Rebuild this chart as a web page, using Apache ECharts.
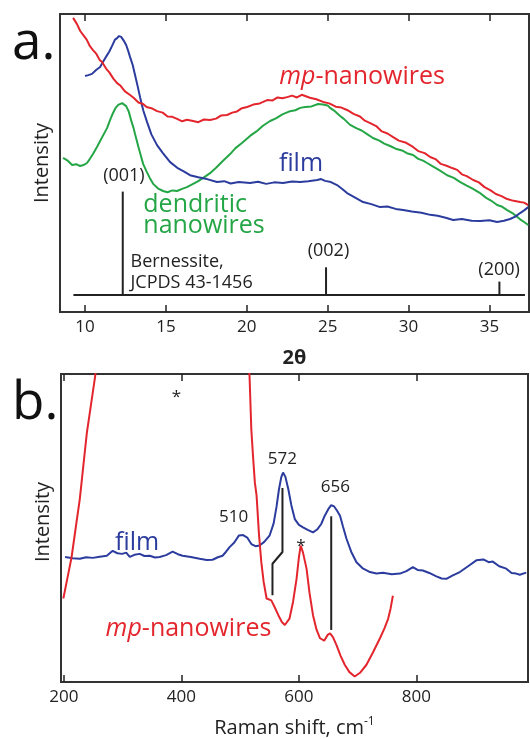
<!DOCTYPE html>
<html>
<head>
<meta charset="utf-8">
<script src="https://cdn.jsdelivr.net/npm/echarts@6/dist/echarts.min.js"></script>
<style>
  html, body { margin: 0; padding: 0; background: #fff; }
  #chart { width: 530px; height: 739px; }
</style>
</head>
<body>
<div id="chart"></div>
<script>
// ---- panel a: XRD (2theta, intensity in arb. units 0-100)
var xrdTicks = [10, 15, 20, 25, 30, 35];

var mpTheta = [9.26, 9.5, 9.7, 9.88, 10.1, 10.3, 10.49, 10.7, 10.9, 11.05, 11.3, 11.5, 11.75, 11.98, 12.2, 12.45, 12.78, 13.0, 13.3, 13.59, 13.8, 14.1, 14.45, 14.8, 15.1, 15.4, 15.69, 16.0, 16.3, 16.68, 17.0, 17.35, 17.73, 18.1, 18.4, 18.78, 19.1, 19.4, 19.7, 20.02, 20.4, 20.8, 21.26, 21.6, 21.9, 22.2, 22.49, 22.8, 23.1, 23.4, 23.61, 23.9, 24.3, 24.72, 25.1, 25.5, 25.85, 26.2, 26.6, 27.0, 27.3, 27.63, 28.0, 28.35, 28.7, 29.05, 29.4, 29.8, 30.28, 30.6, 31.0, 31.34, 31.7, 32.0, 32.39, 32.7, 33.01, 33.3, 33.6, 34.0, 34.35, 34.7, 35.05, 35.4, 35.75, 36.1, 36.5, 36.9, 37.15, 37.4];
var mpInt = [98.7, 96.6, 94.3, 93.0, 91.4, 89.2, 87.9, 86.6, 84.6, 83.9, 81.7, 80.4, 78.3, 76.8, 75.9, 74.1, 72.8, 71.9, 70.3, 69.8, 68.8, 68.4, 67.4, 66.9, 65.6, 65.5, 64.8, 64.0, 64.5, 64.1, 63.7, 64.6, 64.4, 64.9, 65.9, 66.1, 66.9, 67.3, 68.4, 68.8, 69.6, 70.0, 71.1, 71.0, 72.0, 71.7, 72.1, 72.6, 72.0, 72.9, 72.5, 71.9, 71.4, 70.5, 70.0, 68.9, 68.6, 67.8, 66.5, 65.6, 64.2, 63.4, 62.4, 60.6, 59.9, 58.7, 57.5, 56.9, 55.4, 54.0, 53.3, 52.0, 51.2, 49.7, 49.0, 48.3, 47.7, 46.2, 45.6, 44.3, 43.5, 41.9, 40.9, 39.6, 38.9, 37.9, 37.3, 36.9, 36.7, 35.9];

var dendTheta = [8.64, 8.9, 9.2, 9.45, 9.69, 9.9, 10.12, 10.3, 10.49, 10.7, 10.93, 11.15, 11.36, 11.55, 11.73, 11.9, 12.05, 12.29, 12.54, 12.7, 12.85, 13.0, 13.09, 13.3, 13.45, 13.59, 13.8, 14.0, 14.21, 14.5, 14.82, 15.1, 15.4, 15.69, 16.0, 16.3, 16.68, 17.0, 17.35, 17.73, 18.1, 18.5, 18.97, 19.3, 19.7, 20.2, 20.6, 21.0, 21.44, 21.8, 22.2, 22.68, 23.0, 23.3, 23.61, 24.0, 24.41, 24.7, 25.0, 25.15, 25.4, 25.77, 26.0, 26.39, 26.8, 27.1, 27.44, 27.8, 28.2, 28.5, 28.86, 29.2, 29.6, 29.9, 30.28, 30.6, 30.9, 31.15, 31.5, 31.9, 32.39, 32.8, 33.2, 33.6, 33.99, 34.4, 34.8, 35.1, 35.48, 35.8, 36.1, 36.5, 36.9, 37.15, 37.4];
var dendInt = [51.7, 50.9, 49.3, 49.6, 49.0, 49.3, 50.0, 51.4, 53.0, 55.0, 57.4, 59.6, 61.7, 64.5, 66.8, 68.6, 69.5, 70.1, 69.1, 67.3, 64.3, 61.7, 59.7, 55.4, 52.4, 49.7, 47.2, 45.0, 43.0, 41.5, 40.6, 40.2, 40.8, 40.6, 41.3, 41.9, 43.0, 43.9, 45.2, 46.6, 48.4, 50.6, 53.0, 55.0, 56.7, 59.1, 60.6, 62.5, 64.1, 65.0, 66.3, 67.4, 67.7, 68.5, 68.8, 69.0, 69.8, 69.6, 69.3, 68.5, 67.6, 65.8, 64.8, 62.8, 61.6, 60.9, 59.7, 58.4, 57.5, 56.5, 55.7, 54.8, 54.2, 53.3, 52.7, 51.4, 50.8, 50.0, 48.9, 47.6, 45.9, 45.0, 43.6, 42.4, 41.3, 40.0, 38.3, 37.4, 35.9, 35.3, 34.2, 32.9, 31.1, 30.2, 29.2];

var filmTheta = [10.0, 10.2, 10.43, 10.7, 10.93, 11.15, 11.36, 11.5, 11.67, 11.85, 11.98, 12.1, 12.23, 12.4, 12.54, 12.65, 12.78, 12.95, 13.09, 13.25, 13.4, 13.6, 13.83, 14.1, 14.45, 14.8, 15.26, 15.7, 16.1, 16.49, 17.0, 17.54, 18.16, 18.6, 19.0, 19.5, 20.2, 20.7, 21.2, 21.7, 22.24, 22.8, 23.3, 23.8, 24.35, 24.6, 24.84, 25.2, 25.58, 25.9, 26.2, 26.7, 27.19, 27.7, 28.24, 28.7, 29.2, 29.67, 30.2, 30.8, 31.34, 31.8, 32.3, 32.76, 33.3, 33.9, 34.43, 35.0, 35.48, 35.9, 36.28, 36.6, 36.9, 37.15, 37.4];
var filmInt = [79.2, 79.5, 79.9, 81.3, 82.2, 84.3, 86.2, 87.4, 89.3, 91.4, 91.9, 92.6, 92.3, 91.0, 89.6, 87.9, 85.6, 82.8, 79.5, 75.8, 72.1, 67.6, 63.8, 59.6, 56.0, 53.4, 50.3, 48.4, 47.2, 45.9, 45.2, 44.6, 43.6, 43.9, 43.1, 43.6, 43.3, 43.7, 43.0, 43.5, 43.3, 43.8, 43.6, 43.9, 44.3, 44.6, 44.0, 43.6, 42.6, 41.3, 39.9, 38.4, 36.9, 36.2, 35.2, 35.4, 34.6, 34.2, 33.7, 33.3, 32.6, 32.3, 31.6, 30.9, 31.2, 30.6, 30.5, 30.8, 30.2, 30.6, 31.2, 32.0, 33.2, 34.1, 35.2];

// Bernessite reference pattern (JCPDS 43-1456)
var bernLabels = ['(001)', '(002)', '(200)'];
var bernTheta = [12.33, 24.9, 35.62];
var bernHeight = [40.4, 15.0, 10.2];
var bernBaseTheta = [9.28, 37.2];
var bernBaseInt = 5.7;

// ---- panel b: Raman (shift in cm-1, intensity in arb. units 0-100)
var ramanTicks = [200, 400, 600, 800];

var filmShift = [202, 215, 227, 238, 249, 261, 273, 283, 291, 299, 306, 312, 320, 329, 337, 346, 355, 363, 374, 385, 394, 402, 416, 431, 443, 453, 462, 470, 476, 482, 490, 498, 505, 512, 519, 526, 533, 541, 550, 557, 562, 566, 570, 573, 577, 582, 587, 593, 600, 607, 615, 624, 631, 638, 644, 650, 655, 660, 665, 670, 675, 681, 689, 698, 708, 721, 732, 743, 758, 772, 783, 794, 802, 811, 822, 834, 843, 851, 862, 874, 888, 902, 914, 923, 930, 941, 953, 962, 970, 976, 987];
var filmRaman = [40.6, 40.2, 40.0, 40.5, 40.3, 40.7, 41.0, 42.6, 41.8, 41.6, 42.0, 40.6, 41.3, 41.6, 40.9, 41.0, 40.4, 40.6, 41.2, 42.3, 41.5, 41.0, 40.6, 40.0, 39.6, 39.7, 40.5, 41.0, 42.3, 43.8, 45.3, 47.6, 47.7, 46.9, 44.8, 44.1, 44.3, 45.5, 47.5, 51.5, 57.0, 62.5, 66.5, 68.0, 66.6, 62.6, 57.5, 52.9, 51.0, 50.2, 49.4, 48.6, 49.5, 51.3, 54.0, 56.1, 57.4, 57.0, 55.6, 54.0, 50.5, 46.5, 42.3, 38.9, 37.0, 35.7, 35.2, 35.5, 35.0, 35.2, 36.0, 37.3, 36.4, 36.2, 35.4, 34.3, 33.6, 33.5, 34.6, 35.7, 37.6, 39.5, 39.8, 38.9, 39.1, 37.6, 36.8, 35.4, 35.2, 34.8, 35.5];

// mp-nanowires: two visible pieces, the middle runs off the top
var mpShiftLow = [199, 206, 213, 220, 227, 233, 239, 246, 253, 256];
var mpRamanLow = [27.1, 33.8, 40.5, 50.0, 59.4, 70.2, 80.9, 90.0, 99.1, 104];
var mpShiftHigh = [514, 516, 519, 522, 525, 528, 532, 536, 540, 545, 553, 558, 565, 571, 576, 584, 590, 596, 600, 603, 607, 613, 618, 624, 630, 636, 643, 649, 653, 658, 664, 671, 678, 686, 695, 704, 715, 726, 738, 746, 752, 756, 760];
var mpRamanHigh = [106, 99.1, 82, 73, 64.8, 60.4, 48, 38.9, 32.5, 27.1, 26.5, 24.6, 21.7, 19.5, 18.5, 20.6, 26, 33.5, 40.5, 44.3, 42, 36.8, 29, 21.7, 17, 14.2, 13.4, 15.3, 15.8, 14.6, 12.0, 8.5, 5.6, 3.2, 1.8, 3, 5.6, 9.6, 14.2, 17.6, 20.6, 23.8, 28];

// peak guide lines
var guide572Shift = [572, 572, 555, 555];
var guide572Int = [63, 42.2, 38.4, 28.2];
var guide656Shift = [655, 655];
var guide656Int = [53.8, 16.9];

var RED = '#e3262d', BLUE = '#2b3c9e', GREEN = '#25a646', INK = '#222';
var FONT = "'Open Sans', sans-serif";

function zip(xs, ys) {
  return xs.map(function (x, i) { return [x, ys[i]]; });
}

function line(data, color, xi, yi, width) {
  return {
    type: 'line', data: data, xAxisIndex: xi, yAxisIndex: yi,
    showSymbol: false, silent: true, animation: false,
    lineStyle: { color: color, width: width || 2 }
  };
}

function note(x, y, text, xi, yi, label) {
  return {
    type: 'scatter', xAxisIndex: xi, yAxisIndex: yi, silent: true, animation: false,
    symbolSize: 1, itemStyle: { color: 'rgba(0,0,0,0)', opacity: 1 },
    data: [[x, y]],
    label: Object.assign({ show: true, position: 'inside', formatter: text, fontFamily: FONT, opacity: 1 }, label)
  };
}

var series = [
  line(zip(dendTheta, dendInt), GREEN, 0, 0),
  line(zip(filmTheta, filmInt), BLUE, 0, 0),
  line(zip(mpTheta, mpInt), RED, 0, 0),
  line(bernBaseTheta.map(function (t) { return [t, bernBaseInt]; }), INK, 0, 0)
];
bernTheta.forEach(function (t, i) {
  series.push(line([[t, bernBaseInt], [t, bernHeight[i]]], INK, 0, 0));
});

var stickLabelPos = [[12.4, 45.7], [25.05, 20.5], [35.6, 14.3]];
bernLabels.forEach(function (s, i) {
  series.push(note(stickLabelPos[i][0], stickLabelPos[i][1], s, 0, 0, { color: INK, fontSize: 18 }));
});
series.push(note(12.78, 13.2, 'Bernessite,\nJCPDS 43-1456', 0, 0,
  { position: 'right', distance: 0, color: INK, fontSize: 18, lineHeight: 21 }));
series.push(note(27.13, 78.9, '{i|mp}-nanowires', 0, 0,
  { color: RED, fontSize: 25, rich: { i: { fontStyle: 'italic', fontSize: 25, color: RED, fontFamily: FONT } } }));
series.push(note(23.35, 49.8, 'film', 0, 0, { color: BLUE, fontSize: 25 }));
series.push(note(13.57, 32.3, 'dendritic\nnanowires', 0, 0,
  { position: 'right', distance: 0, color: GREEN, fontSize: 25, lineHeight: 21 }));

series.push(line(zip(filmShift, filmRaman), BLUE, 2, 1));
series.push(line(zip(mpShiftLow, mpRamanLow), RED, 2, 1));
series.push(line(zip(mpShiftHigh, mpRamanHigh), RED, 2, 1));
series.push(line(zip(guide572Shift, guide572Int), INK, 2, 1));
series.push(line(zip(guide656Shift, guide656Int), INK, 2, 1));
series.push(note(488.9, 53.5, '510', 2, 1, { color: INK, fontSize: 17 }));
series.push(note(571.7, 72.5, '572', 2, 1, { color: INK, fontSize: 17 }));
series.push(note(662, 63.1, '656', 2, 1, { color: INK, fontSize: 17 }));
series.push(note(603.4, 44.2, '*', 2, 1, { color: INK, fontSize: 17 }));
series.push(note(391.7, 92.6, '*', 2, 1, { color: INK, fontSize: 17 }));
series.push(note(324.5, 45.1, 'film', 2, 1, { color: BLUE, fontSize: 25 }));
series.push(note(412, 17.3, '{i|mp}-nanowires', 2, 1,
  { color: RED, fontSize: 25, rich: { i: { fontStyle: 'italic', fontSize: 25, color: RED, fontFamily: FONT } } }));

function xAxis(grid, min, max, ticks, pos, extra) {
  return Object.assign({
    type: 'value', gridIndex: grid, position: pos, min: min, max: max,
    splitLine: { show: false },
    axisLine: { show: false },
    axisTick: { show: true, inside: true, length: 7, customValues: ticks, lineStyle: { color: INK, width: 1.5 } },
    axisLabel: pos === 'bottom'
      ? { show: true, customValues: ticks, color: INK, fontSize: 17, fontFamily: FONT, margin: 7 }
      : { show: false }
  }, extra || {});
}

function yAxis(grid, padding) {
  return {
    type: 'value', gridIndex: grid, min: 0, max: 100,
    name: 'Intensity', nameLocation: 'middle', nameGap: 8, nameRotate: 90,
    nameTextStyle: { color: INK, fontSize: 20, fontFamily: FONT, padding: padding },
    axisLine: { show: false }, axisTick: { show: false },
    axisLabel: { show: false }, splitLine: { show: false }
  };
}

var option = {
  backgroundColor: '#fff',
  animation: false,
  grid: [
    { left: 60, top: 14, width: 469, height: 298, show: true, borderColor: '#333', borderWidth: 2 },
    { left: 61, top: 374, width: 467, height: 310, show: true, borderColor: '#333', borderWidth: 2 }
  ],
  xAxis: [
    xAxis(0, 8.45, 37.45, xrdTicks, 'bottom', {
      name: '2\u03b8', nameLocation: 'middle', nameGap: 36,
      nameTextStyle: { color: INK, fontSize: 20, fontWeight: 'bold', fontFamily: FONT }
    }),
    xAxis(0, 8.45, 37.45, xrdTicks, 'top'),
    xAxis(1, 195, 990, ramanTicks, 'bottom', {
      name: 'Raman shift, cm{sup|-1}', nameLocation: 'middle', nameGap: 34,
      nameTextStyle: {
        color: INK, fontSize: 20, fontFamily: FONT,
        rich: { sup: { fontSize: 12, color: INK, fontFamily: FONT, verticalAlign: 'top', padding: [0, 0, 12, 0] } }
      }
    }),
    xAxis(1, 195, 990, ramanTicks, 'top')
  ],
  yAxis: [yAxis(0, [0, 0, 0, 0]), yAxis(1, [0, 0, 0, 12])],
  graphic: [
    { type: 'text', left: 12, top: 17, style: { text: 'a.', font: "53px 'Open Sans', sans-serif", fill: '#111' } },
    { type: 'text', left: 12, top: 377, style: { text: 'b.', font: "53px 'Open Sans', sans-serif", fill: '#111' } }
  ],
  series: series
};

var chart = echarts.init(document.getElementById('chart'));
chart.setOption(option);
</script>
</body>
</html>
